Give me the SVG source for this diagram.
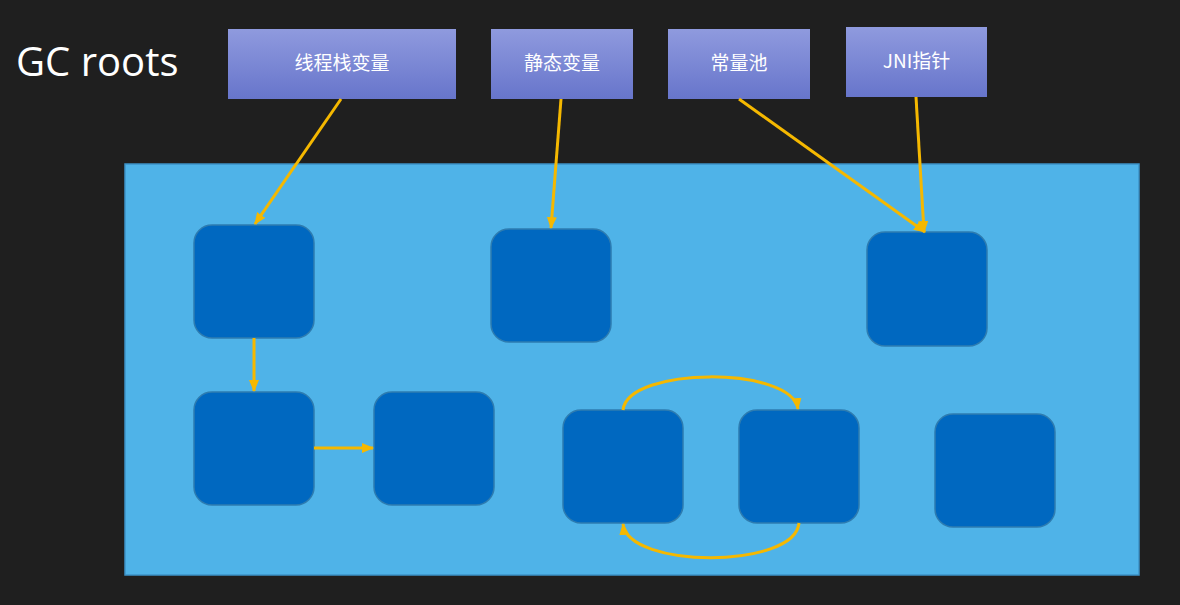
<svg xmlns="http://www.w3.org/2000/svg" width="1180" height="605" viewBox="0 0 1180 605">
<defs>
<linearGradient id="rootGrad" x1="0" y1="0" x2="0" y2="1">
<stop offset="0" stop-color="#8f9ade"/>
<stop offset="1" stop-color="#6775cb"/>
</linearGradient>
<marker id="arrow" viewBox="0 0 12 10" refX="11" refY="5" markerWidth="12" markerHeight="10" markerUnits="userSpaceOnUse" orient="auto">
<path d="M0,0 L12,5 L0,10 Z" fill="#f5b800"/>
</marker>
</defs>
<style>
.root rect{fill:url(#rootGrad);}
.root text{fill:#ffffff;font-family:"Noto Sans CJK SC","Noto Sans",sans-serif;font-size:19px;text-anchor:middle;}
.obj rect{fill:#0068c0;stroke:#2e7cb0;stroke-width:1.5;}
.conn path{fill:none;stroke:#f5b800;stroke-width:3;marker-end:url(#arrow);}
</style>
<rect x="0" y="0" width="1180" height="605" fill="#1f1f1f"/>
<text x="16" y="76" font-family="'Open Sans','Noto Sans',sans-serif" font-size="40" fill="#ffffff">GC roots</text>
<g id="heap">
<rect x="125" y="164" width="1014" height="411" fill="#4fb3e8" stroke="#3c93c8" stroke-width="1.5"/>
</g>
<g id="root-thread" class="root"><rect x="228" y="29" width="228" height="70"/><text x="342" y="70">线程栈变量</text></g>
<g id="root-static" class="root"><rect x="491" y="29" width="142" height="70"/><text x="562" y="70">静态变量</text></g>
<g id="root-const" class="root"><rect x="668" y="29" width="142" height="70"/><text x="739" y="70">常量池</text></g>
<g id="root-jni" class="root"><rect x="846" y="27" width="141" height="70"/><text x="916.500" y="68">JNI指针</text></g>
<g id="obj1" class="obj"><rect x="194" y="225" width="120" height="113" rx="18"/></g>
<g id="obj2" class="obj"><rect x="491" y="229" width="120" height="113" rx="18"/></g>
<g id="obj3" class="obj"><rect x="867" y="232" width="120" height="114" rx="18"/></g>
<g id="obj4" class="obj"><rect x="194" y="392" width="120" height="113" rx="18"/></g>
<g id="obj5" class="obj"><rect x="374" y="392" width="120" height="113" rx="18"/></g>
<g id="obj6" class="obj"><rect x="563" y="410" width="120" height="113" rx="18"/></g>
<g id="obj7" class="obj"><rect x="739" y="410" width="120" height="113" rx="18"/></g>
<g id="obj8" class="obj"><rect x="935" y="414" width="120" height="113" rx="18"/></g>
<g id="connectors" class="conn">
<path d="M341,99 L255,224"/>
<path d="M561,99 L551,228"/>
<path d="M739,99 L925,232"/>
<path d="M916,97 L924,232"/>
<path d="M254,338 L254,391"/>
<path d="M314,448 L373,448"/>
<path d="M623,410 C628,366 792,366 798,409"/>
<path d="M799,523 C795,569 628,569 623,524"/>
</g>
</svg>
